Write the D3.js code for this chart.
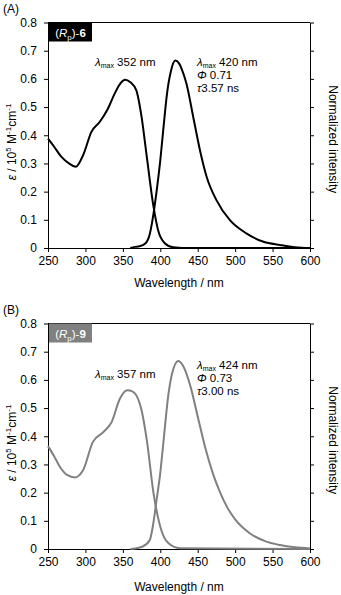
<!DOCTYPE html>
<html><head><meta charset="utf-8">
<script src="https://cdn.jsdelivr.net/npm/d3@7"></script>
<style>
html,body{margin:0;padding:0;background:#fff;}
svg text{font-family:"Liberation Sans",Arial,sans-serif;}
</style></head>
<body>
<svg id="chart" width="341" height="595"></svg>
<script>
// ---- data ----
const xTicks = [250, 300, 350, 400, 450, 500, 550, 600];
const yTicks = [0, 0.1, 0.2, 0.3, 0.4, 0.5, 0.6, 0.7, 0.8];
const yTickLabels = ["0", "0.1", "0.2", "0.3", "0.4", "0.5", "0.6", "0.7", "0.8"];

// (A) (Rp)-6
const absA_wl  = [250, 258, 268, 278, 287, 297, 308, 319, 330, 340, 347, 353, 360, 368, 375, 382, 391, 397, 406, 417, 440, 600];
const absA_val = [0.388, 0.36, 0.323, 0.3, 0.288, 0.33, 0.412, 0.447, 0.494, 0.553, 0.585, 0.597, 0.588, 0.559, 0.465, 0.323, 0.146, 0.064, 0.017, 0.003, 0, 0];
const emA_wl   = [360, 366, 372, 380, 386, 391, 396, 400, 404, 409, 414, 420, 425, 430, 435, 444, 453, 462, 475, 493, 515, 538, 560, 580, 600];
const emA_val  = [0, 0.004, 0.006, 0.016, 0.05, 0.123, 0.22, 0.311, 0.42, 0.548, 0.625, 0.665, 0.655, 0.625, 0.583, 0.465, 0.347, 0.252, 0.17, 0.099, 0.052, 0.022, 0.011, 0.003, 0];

// (B) (Rp)-9
const absB_wl  = [250, 258, 266, 276, 286, 297, 310, 324, 335, 346, 356, 362, 368, 375, 382, 391, 400, 411, 426, 600];
const absB_val = [0.365, 0.33, 0.291, 0.262, 0.254, 0.28, 0.38, 0.415, 0.45, 0.533, 0.563, 0.56, 0.545, 0.492, 0.386, 0.197, 0.079, 0.02, 0.003, 0];
const emB_wl   = [360, 366, 376, 386, 390, 395, 400, 404, 411, 416, 424, 430, 440, 450, 460, 470, 480, 490, 500, 520, 540, 560, 580, 600];
const emB_val  = [0, 0.002, 0.008, 0.032, 0.08, 0.173, 0.27, 0.374, 0.551, 0.625, 0.667, 0.652, 0.58, 0.47, 0.36, 0.27, 0.2, 0.145, 0.105, 0.055, 0.028, 0.014, 0.006, 0.002];

const panels = [
  {tag: "(A)", compound: "6", color: "#000000", boxColor: "#000000",
   absWl: absA_wl, absVal: absA_val, emWl: emA_wl, emVal: emA_val,
   absLabel: "352", emLabel: "420", phi: "0.71", tau: "3.57"},
  {tag: "(B)", compound: "9", color: "#808080", boxColor: "#808080",
   absWl: absB_wl, absVal: absB_val, emWl: emB_wl, emVal: emB_val,
   absLabel: "357", emLabel: "424", phi: "0.73", tau: "3.00"}
];

// ---- layout ----
const svg = d3.select("#chart");
const L = 48, R = 310;
const layout = [
  {top: 22.5, bottom: 248, tagY: 13, absLabY: 66, emLabY: 66, xLabY: 287, yLabC: 142},
  {top: 323.5, bottom: 549, tagY: 314, absLabY: 378, emLabY: 369, xLabY: 591, yLabC: 443}
];

panels.forEach((p, i) => {
  const g = layout[i];
  const x = d3.scaleLinear().domain([250, 600]).range([L, R]);
  const y = d3.scaleLinear().domain([0, 0.8]).range([g.bottom, g.top]);
  const gp = svg.append("g");

  // top frame line
  gp.append("line").attr("x1", L).attr("x2", R).attr("y1", g.top).attr("y2", g.top)
    .attr("stroke", "#000").attr("stroke-width", 1);

  // left axis
  const ya = gp.append("g").attr("transform", `translate(${L},0)`)
    .call(d3.axisLeft(y).tickValues(yTicks).tickFormat((d, k) => yTickLabels[k]).tickSize(4).tickPadding(7).tickSizeOuter(0));
  // right axis (no labels)
  const yr = gp.append("g").attr("transform", `translate(${R},0)`)
    .call(d3.axisRight(y).tickValues(yTicks).tickFormat("").tickSize(4).tickSizeOuter(0));
  // bottom axis
  const xa = gp.append("g").attr("transform", `translate(0,${g.bottom})`)
    .call(d3.axisBottom(x).tickValues(xTicks).tickFormat(d3.format("d")).tickSize(4).tickPadding(4).tickSizeOuter(0));
  [ya, yr, xa].forEach(a => {
    a.selectAll("path, line").attr("stroke", "#000").attr("stroke-width", 1);
    a.selectAll("text").attr("font-size", 12).attr("fill", "#000")
      .attr("font-family", '"Liberation Sans",Arial,sans-serif');
  });

  // curves
  const line = d3.line().x(d => x(d[0])).y(d => y(d[1])).curve(d3.curveMonotoneX);
  const absData = p.absWl.map((w, k) => [w, p.absVal[k]]);
  const emData = p.emWl.map((w, k) => [w, p.emVal[k]]);
  gp.append("path").attr("d", line(absData)).attr("fill", "none")
    .attr("stroke", p.color).attr("stroke-width", 2).attr("stroke-linejoin", "round");
  gp.append("path").attr("d", line(emData)).attr("fill", "none")
    .attr("stroke", p.color).attr("stroke-width", 2).attr("stroke-linejoin", "round");

  // panel tag
  svg.append("text").attr("x", 3).attr("y", g.tagY).attr("font-size", 12).text(p.tag);

  // compound box
  gp.append("rect").attr("x", L + 1).attr("y", g.top).attr("width", 43).attr("height", 19)
    .attr("fill", p.boxColor);
  const bt = gp.append("text").attr("x", L + 1 + 21.5).attr("y", g.top + 14)
    .attr("text-anchor", "middle").attr("font-size", 11.5).attr("fill", "#fff");
  bt.append("tspan").text("(");
  bt.append("tspan").attr("font-style", "italic").text("R");
  bt.append("tspan").attr("font-size", 8).attr("dy", 3).text("p");
  bt.append("tspan").attr("dy", -3).text(")-");
  bt.append("tspan").attr("font-weight", "bold").text(p.compound);

  // absorption annotation
  const at = gp.append("text").attr("x", 95).attr("y", g.absLabY).attr("font-size", 11.5);
  at.append("tspan").attr("font-style", "italic").text("λ");
  at.append("tspan").attr("font-size", 7).attr("dy", 2).text("max");
  at.append("tspan").attr("dy", -2).text(" " + p.absLabel + " nm");

  // emission annotation
  const ex = 197;
  const e1 = gp.append("text").attr("x", ex).attr("y", g.emLabY).attr("font-size", 11.5);
  e1.append("tspan").attr("font-style", "italic").text("λ");
  e1.append("tspan").attr("font-size", 7).attr("dy", 2).text("max");
  e1.append("tspan").attr("dy", -2).text(" " + p.emLabel + " nm");
  const e2 = gp.append("text").attr("x", ex).attr("y", g.emLabY + 13).attr("font-size", 11.5);
  e2.append("tspan").attr("font-style", "italic").text("Φ");
  e2.append("tspan").text(" " + p.phi);
  const e3 = gp.append("text").attr("x", ex).attr("y", g.emLabY + 26).attr("font-size", 11.5);
  e3.append("tspan").attr("font-style", "italic").text("τ");
  e3.append("tspan").text(p.tau + " ns");

  // x label
  gp.append("text").attr("x", (L + R) / 2).attr("y", g.xLabY).attr("text-anchor", "middle")
    .attr("font-size", 12).text("Wavelength / nm");

  // y label left
  const yl = gp.append("text").attr("transform", `translate(16,${g.yLabC}) rotate(-90)`)
    .attr("text-anchor", "middle").attr("font-size", 12);
  yl.append("tspan").attr("font-style", "italic").text("ε");
  yl.append("tspan").text(" / 10");
  yl.append("tspan").attr("font-size", 8).attr("dy", -5).text("5");
  yl.append("tspan").attr("dy", 5).text(" M");
  yl.append("tspan").attr("font-size", 8).attr("dy", -5).text("-1");
  yl.append("tspan").attr("dy", 5).text("cm");
  yl.append("tspan").attr("font-size", 8).attr("dy", -5).text("-1");

  // right label
  gp.append("text").attr("transform", `translate(329,${(g.top + g.bottom) / 2 + 4}) rotate(90)`)
    .attr("text-anchor", "middle").attr("font-size", 12).text("Normalized intensity");
});
</script>
</body></html>
